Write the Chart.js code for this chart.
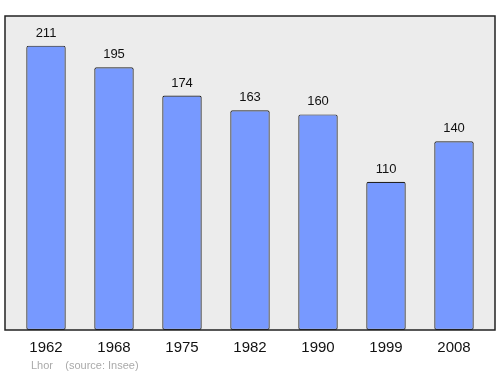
<!DOCTYPE html>
<html>
<head>
<meta charset="utf-8">
<script src="https://cdn.jsdelivr.net/npm/chart.js@4"></script>
<style>
  html, body { margin: 0; padding: 0; background: #fff; }
  #wrap { width: 500px; height: 374px; }
</style>
</head>
<body>
<div id="wrap"><canvas id="popChart" width="500" height="374"></canvas></div>
<script>
const years = ['1962', '1968', '1975', '1982', '1990', '1999', '2008'];
const population = [211, 195, 174, 163, 160, 110, 140];
const footerText = 'Lhor    (source: Insee)';

// grey frame + value labels + footer
const decor = {
  id: 'decor',
  beforeDraw(chart) {
    const ctx = chart.ctx;
    const a = chart.chartArea;
    ctx.save();
    ctx.fillStyle = '#ececec';
    ctx.fillRect(a.left - 7, a.top, a.right - a.left + 14, a.bottom - a.top);
    ctx.restore();
  },
  afterDraw(chart) {
    const ctx = chart.ctx;
    const a = chart.chartArea;
    ctx.save();
    ctx.strokeStyle = '#222';
    ctx.lineWidth = 1.5;
    ctx.strokeRect(a.left - 7, a.top, a.right - a.left + 14, a.bottom - a.top);

    ctx.fillStyle = '#111';
    ctx.font = '13px "Liberation Sans", Arial, sans-serif';
    ctx.textAlign = 'center';
    ctx.textBaseline = 'alphabetic';
    chart.getDatasetMeta(0).data.forEach((bar, i) => {
      ctx.fillText(population[i], bar.x, bar.y - 9);
    });

    ctx.fillStyle = '#aaa';
    ctx.font = '11px "Liberation Sans", Arial, sans-serif';
    ctx.textAlign = 'left';
    ctx.fillText(footerText, 31, 369);
    ctx.restore();
  }
};

new Chart(document.getElementById('popChart').getContext('2d'), {
  type: 'bar',
  data: {
    labels: years,
    datasets: [{
      data: population,
      backgroundColor: '#7799ff',
      borderColor: '#222',
      borderWidth: 1.2,
      borderRadius: 2,
      borderSkipped: false,
      barPercentage: 0.58,
      categoryPercentage: 1
    }]
  },
  options: {
    responsive: false,
    animation: false,
    layout: { padding: { left: 12, right: 12, top: 16, bottom: 8 } },
    plugins: { legend: { display: false }, tooltip: { enabled: false } },
    scales: {
      x: {
        grid: { display: false, drawTicks: false },
        border: { display: false },
        ticks: { color: '#111', padding: 9, font: { size: 15, family: '"Liberation Sans", Arial, sans-serif' } }
      },
      y: { display: false, min: 0, max: 233 }
    }
  },
  plugins: [decor]
});
</script>
</body>
</html>
